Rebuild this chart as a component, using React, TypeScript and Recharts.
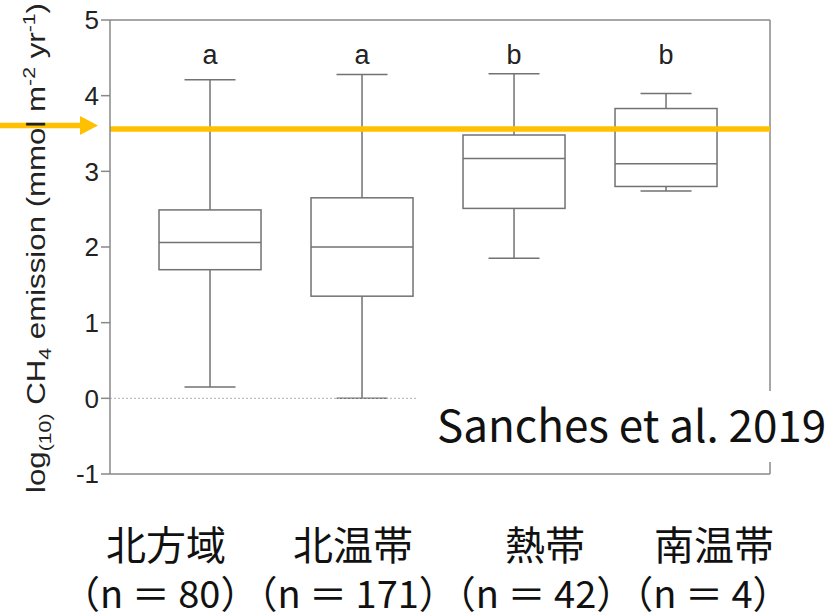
import React from 'react';
import { ComposedChart, Bar, XAxis, YAxis, ReferenceLine } from 'recharts';

document.body.style.margin = '0';

const regions = ['北方域', '北温帯', '熱帯', '南温帯'];
const sampleSizes = [80, 171, 42, 4];
const positions = [1, 2, 3, 4];
const whiskerLow = [0.15, 0.0, 1.85, 2.74];
const quartile1 = [1.7, 1.35, 2.51, 2.8];
const medians = [2.06, 2.0, 3.17, 3.1];
const quartile3 = [2.49, 2.65, 3.48, 3.83];
const whiskerHigh = [4.21, 4.28, 4.29, 4.03];
const groupLetters = ['a', 'a', 'b', 'b'];
const yTicks = [-1, 0, 1, 2, 3, 4, 5];
const letterLevel = 4.55;
const markedLevel = 3.56;
const zeroLineEnd = 2.355;
const xDomain: [number, number] = [0.342, 4.684];

const data = positions.map((pos, i) => ({
  pos,
  region: regions[i],
  min: whiskerLow[i],
  q1: quartile1[i],
  median: medians[i],
  q3: quartile3[i],
  max: whiskerHigh[i],
  letter: groupLetters[i],
}));

const LINE = '#727272';
const ORANGE = '#ffc000';
const FONT_LAT = 'Liberation Sans, Arial, sans-serif';
const FONT_JP = '"Noto Sans CJK JP", sans-serif';

const BoxShape = (props: any) => {
  const { x, y, width, height, payload } = props;
  const { min, q1, median, q3, max, letter } = payload;
  // map values inside the bar's own pixel span (min..max)
  const unit = height / (max - min);
  const py = (v: number) => y + (max - v) * unit;
  const cx = x + width / 2;
  const cap = width / 4;
  return (
    <g>
      <line x1={cx} x2={cx} y1={py(max)} y2={py(q3)} stroke={LINE} strokeWidth={1.5} />
      <line x1={cx} x2={cx} y1={py(q1)} y2={py(min)} stroke={LINE} strokeWidth={1.5} />
      <line x1={cx - cap} x2={cx + cap} y1={py(max)} y2={py(max)} stroke={LINE} strokeWidth={1.5} />
      <line x1={cx - cap} x2={cx + cap} y1={py(min)} y2={py(min)} stroke={LINE} strokeWidth={1.5} />
      <rect x={x} y={py(q3)} width={width} height={py(q1) - py(q3)} fill="#fff" stroke={LINE} strokeWidth={1.5} />
      <line x1={x} x2={x + width} y1={py(median)} y2={py(median)} stroke={LINE} strokeWidth={1.5} />
      <text x={cx} y={py(letterLevel)} dy="0.35em" textAnchor="middle" fontFamily={FONT_LAT} fontSize={27} fill="#222">
        {letter}
      </text>
    </g>
  );
};

const MarkedLine = (props: any) => {
  const { x1, y1, x2 } = props;
  const ay = y1 - 3.5;
  return (
    <g>
      <line x1={x1} x2={x2} y1={y1} y2={y1} stroke={ORANGE} strokeWidth={5.5} />
      <line x1={0} x2={x1 - 28} y1={ay} y2={ay} stroke={ORANGE} strokeWidth={5.5} />
      <polygon points={`${x1 - 30},${ay - 9.5} ${x1 - 12},${ay} ${x1 - 30},${ay + 9.5}`} fill={ORANGE} />
    </g>
  );
};

export default function App() {
  return (
    <div style={{ position: 'relative', width: 833, height: 614, background: '#fff' }}>
      <ComposedChart width={833} height={614} data={data} margin={{ top: 20, right: 63, bottom: 120, left: 0 }}>
        <XAxis
          dataKey="pos"
          type="number"
          domain={xDomain}
          ticks={positions}
          tick={false}
          tickSize={16}
          height={20}
          stroke="#888"
          strokeWidth={1.5}
        />
        <YAxis
          type="number"
          domain={[-1, 5]}
          ticks={yTicks}
          width={110}
          tickSize={9}
          stroke="#888"
          strokeWidth={1.5}
          tick={{ fill: '#222', fontSize: 26, fontFamily: FONT_LAT }}
        />
        <ReferenceLine y={5} stroke="#888" strokeWidth={1.5} />
        <ReferenceLine x={xDomain[1]} stroke="#888" strokeWidth={1.5} />
        <ReferenceLine
          segment={[
            { x: xDomain[0], y: 0 },
            { x: zeroLineEnd, y: 0 },
          ]}
          stroke="#b0b0b0"
          strokeWidth={1}
          strokeDasharray="2 2"
        />
        <Bar
          dataKey={(d: any) => [d.min, d.max]}
          barSize={102}
          shape={<BoxShape />}
          isAnimationActive={false}
        />
        <ReferenceLine y={markedLevel} shape={<MarkedLine />} />
      </ComposedChart>

      <svg width={833} height={614} style={{ position: 'absolute', left: 0, top: 0, pointerEvents: 'none' }}>
        <text
          transform="translate(45,248) rotate(-90) scale(1.25,1)"
          textAnchor="middle"
          fontFamily={FONT_LAT}
          fontSize={25}
          fill="#222"
        >
          log
          <tspan fontSize={17} dy={6}>(10)</tspan>
          <tspan dy={-6}> CH</tspan>
          <tspan fontSize={17} dy={6}>4</tspan>
          <tspan dy={-6}> emission (mmol m</tspan>
          <tspan fontSize={17} dy={-10}>-2</tspan>
          <tspan dy={10}> yr</tspan>
          <tspan fontSize={17} dy={-10}>-1</tspan>
          <tspan dy={10}>)</tspan>
        </text>
        <rect x={430} y={391} width={403} height={71} fill="#fff" />
        <text x={437} y={442} fontFamily={FONT_JP} fontSize={44} fill="#111">
          Sanches et al. 2019
        </text>
        {regions.map((r, i) => (
          <text key={r} x={[166, 353, 545, 714][i]} y={560} textAnchor="middle" fontFamily={FONT_JP} fontSize={40} fill="#111">
            {r}
          </text>
        ))}
        <text x={62} y={608} fontFamily={FONT_JP} fontSize={38} fill="#111">
          {sampleSizes.map((n) => `（n ＝ ${n}）`).join('')}
        </text>
      </svg>
    </div>
  );
}
